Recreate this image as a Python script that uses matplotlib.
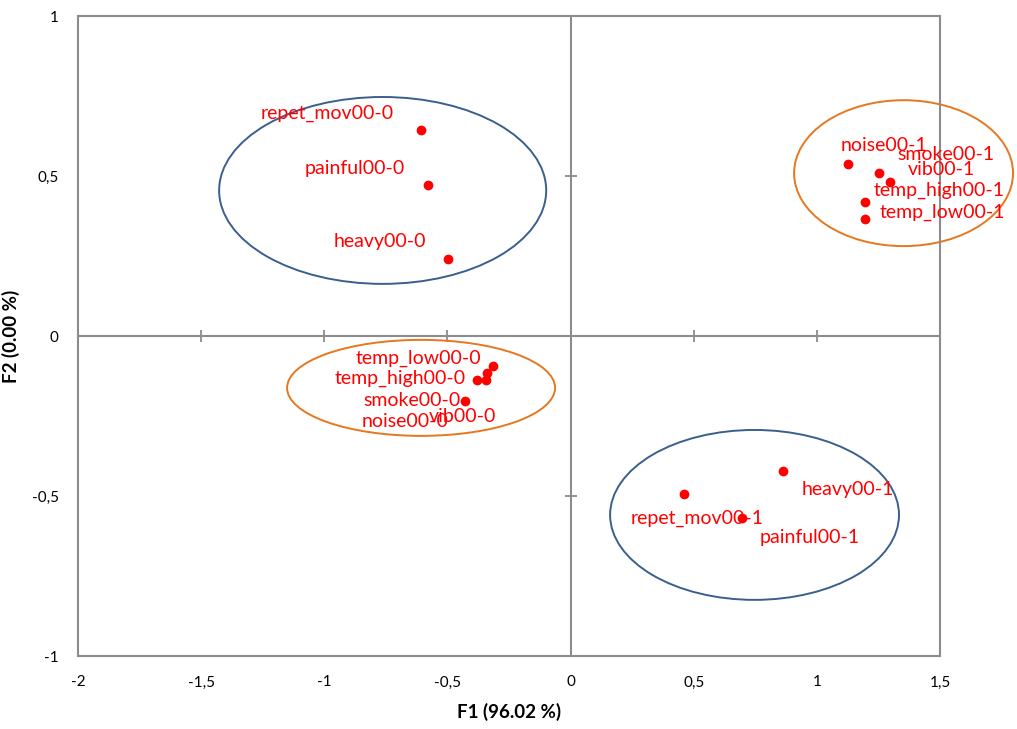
import matplotlib
matplotlib.use('Agg')
import matplotlib.pyplot as plt
from matplotlib.patches import Ellipse

plt.rcParams['font.family'] = ['Lato', 'DejaVu Sans']

# category coordinates on F1 / F2
names = ['repet_mov00-0', 'painful00-0', 'heavy00-0',
         'temp_low00-0', 'temp_high00-0', 'smoke00-0', 'noise00-0', 'vib00-0',
         'noise00-1', 'smoke00-1', 'vib00-1', 'temp_high00-1', 'temp_low00-1',
         'heavy00-1', 'repet_mov00-1', 'painful00-1']
f1 = [-0.607, -0.579, -0.498,
      -0.314, -0.339, -0.429, -0.380, -0.343,
      1.126, 1.252, 1.297, 1.195, 1.195,
      0.863, 0.461, 0.696]
f2 = [0.644, 0.472, 0.241,
      -0.094, -0.116, -0.203, -0.138, -0.138,
      0.537, 0.509, 0.481, 0.419, 0.366,
      -0.422, -0.494, -0.569]

# where the labels sit (centre of text)
label_x = [-0.988, -0.876, -0.774,
           -0.619, -0.693, -0.644, -0.672, -0.437,
           1.273, 1.525, 1.504, 1.496, 1.508,
           1.126, 0.513, 0.972]
label_y = [0.697, 0.525, 0.294,
           -0.069, -0.131, -0.200, -0.266, -0.250,
           0.594, 0.566, 0.519, 0.456, 0.387,
           -0.481, -0.569, -0.631]

# group ellipses: centre x, centre y, width, height, colour
ell_cx = [-0.763, -0.607, 1.352, 0.747]
ell_cy = [0.455, -0.162, 0.509, -0.559]
ell_w = [1.328, 1.088, 0.889, 1.173]
ell_h = [0.584, 0.300, 0.456, 0.531]
ell_col = ['#3A5F8F', '#E5781E', '#E5781E', '#3A5F8F']

x_ticks = [-2, -1.5, -1, -0.5, 0, 0.5, 1, 1.5]
x_ticklabels = ['-2', '-1,5', '-1', '-0,5', '0', '0,5', '1', '1,5']
y_ticks = [-1, -0.5, 0, 0.5, 1]
y_ticklabels = ['-1', '-0,5', '0', '0,5', '1']

fig = plt.figure(figsize=(10.17, 7.29), dpi=100)
ax = fig.add_axes([0.0767, 0.1001, 0.8476, 0.8779])
ax.set_xlim(-2, 1.5)
ax.set_ylim(-1, 1)

gray = '#8C8C8C'
for s in ax.spines.values():
    s.set_color(gray)
    s.set_linewidth(1.5)

ax.axhline(0, color=gray, lw=1.5, zorder=1)
ax.axvline(0, color=gray, lw=1.5, zorder=1)

# tick marks on the crossing axes
inner_x = [t for t in x_ticks if t not in (-2, 0, 1.5)]
inner_y = [t for t in y_ticks if t not in (-1, 0, 1)]
ax.plot(inner_x, [0] * len(inner_x), ls='none', marker='|', ms=9, mew=1.3, color=gray, zorder=1)
ax.plot([0] * len(inner_y), inner_y, ls='none', marker='_', ms=9, mew=1.3, color=gray, zorder=1)

ax.set_xticks(x_ticks)
ax.set_xticklabels(x_ticklabels)
ax.set_yticks(y_ticks)
ax.set_yticklabels(y_ticklabels)
ax.tick_params(length=0, labelsize=11)
ax.tick_params(axis='x', pad=14)
ax.tick_params(axis='y', pad=14)

ax.set_xlabel('F1 (96.02 %)', fontsize=13.5, fontweight='bold', labelpad=10)
ax.set_ylabel('F2 (0.00 %)', fontsize=13.5, fontweight='bold', labelpad=8)

for cx, cy, w, h, c in zip(ell_cx, ell_cy, ell_w, ell_h, ell_col):
    ax.add_patch(Ellipse((cx, cy), w, h, fill=False, edgecolor=c, lw=1.4,
                         clip_on=False, zorder=2))

ax.plot(f1, f2, ls='none', marker='o', ms=6, color='#FF0000', zorder=3)

for name, lx, ly in zip(names, label_x, label_y):
    ax.text(lx, ly, name, color='#FF0000', fontsize=14, ha='center', va='center',
            clip_on=False, zorder=4)

fig.savefig('out.png', dpi=100, facecolor='white')
